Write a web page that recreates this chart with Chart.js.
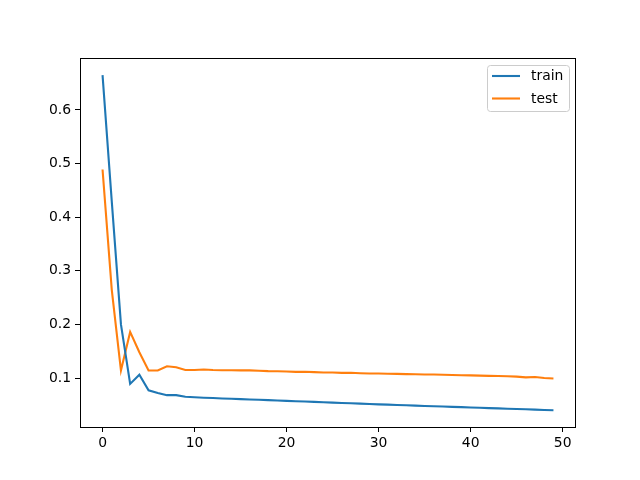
<!DOCTYPE html>
<html>
<head>
<meta charset="utf-8">
<script src="https://cdn.jsdelivr.net/npm/chart.js@4/dist/chart.umd.min.js"></script>
<style>
  body { margin: 0; background: #fff; }
  canvas { display: block; }
</style>
</head>
<body>
<canvas id="myChart" width="640" height="480"></canvas>
<script>
// loss per epoch
const epochs = [];
for (let i = 0; i < 50; i++) epochs.push(i);

const trainLoss = [
    0.665, 0.430, 0.200, 0.089, 0.106, 0.077, 0.072, 0.068, 0.068, 0.065,
    0.0640, 0.0632, 0.0626, 0.0619, 0.0613, 0.0606, 0.0600, 0.0593, 0.0587, 0.0580,
    0.0574, 0.0567, 0.0561, 0.0554, 0.0548, 0.0541, 0.0535, 0.0528, 0.0522, 0.0515,
    0.0509, 0.0503, 0.0497, 0.0491, 0.0485, 0.0479, 0.0473, 0.0468, 0.0462, 0.0456,
    0.0450, 0.0445, 0.0439, 0.0433, 0.0427, 0.0421, 0.0416, 0.0410, 0.0404, 0.0398
];
const testLoss = [
    0.489, 0.265, 0.114, 0.186, 0.148, 0.114, 0.114, 0.122, 0.120, 0.115,
    0.115, 0.116, 0.115, 0.1145, 0.1145, 0.1143, 0.1142, 0.1135, 0.1128, 0.1125,
    0.1122, 0.1115, 0.1117, 0.1110, 0.1103, 0.1102, 0.1095, 0.1098, 0.1090, 0.1085,
    0.1083, 0.1080, 0.1077, 0.1073, 0.1070, 0.1065, 0.1065, 0.1060, 0.1055, 0.1052,
    0.1050, 0.1045, 0.1040, 0.1038, 0.1033, 0.1025, 0.1012, 0.1018, 0.1000, 0.0992
];
const xTicks = [0, 10, 20, 30, 40, 50];
const yTicks = [0.1, 0.2, 0.3, 0.4, 0.5, 0.6];

const font = { family: 'DejaVu Sans', size: 13.9 };

// box around the plot + matplotlib style legend
const framePlugin = {
    id: 'frame',
    afterDraw(chart) {
        const c = chart.ctx;
        const a = chart.chartArea;
        c.save();
        c.strokeStyle = '#000';
        c.lineWidth = 1;
        c.strokeRect(a.left + 0.5, a.top + 0.5, a.right - a.left - 1, a.bottom - a.top);

        // legend
        const x = 487.5, y = 65.5, w = 82, h = 46;
        c.beginPath();
        c.roundRect(x, y, w, h, 3);
        c.fillStyle = 'rgba(255,255,255,0.8)';
        c.fill();
        c.strokeStyle = '#cccccc';
        c.stroke();
        c.font = '13.9px "DejaVu Sans"';
        c.textBaseline = 'middle';
        chart.data.datasets.forEach((ds, i) => {
            const ly = 76 + i * 22.5;
            c.strokeStyle = ds.borderColor;
            c.lineWidth = 2.1;
            c.beginPath();
            c.moveTo(492, ly);
            c.lineTo(520, ly);
            c.stroke();
            c.fillStyle = '#000';
            c.fillText(ds.label, 531, ly + 0.5);
        });
        c.restore();
    }
};

const ctx = document.getElementById('myChart').getContext('2d');
const myChart = new Chart(ctx, {
    type: 'line',
    data: {
        labels: epochs,
        datasets: [{
            label: 'train',
            data: trainLoss,
            borderColor: '#1f77b4',
            borderWidth: 2.1,
            pointRadius: 0,
            tension: 0
        }, {
            label: 'test',
            data: testLoss,
            borderColor: '#ff7f0e',
            borderWidth: 2.1,
            pointRadius: 0,
            tension: 0
        }]
    },
    options: {
        responsive: false,
        animation: false,
        layout: { padding: { top: 58, right: 64, left: 0, bottom: 0 } },
        plugins: { legend: { display: false }, tooltip: { enabled: false } },
        scales: {
            x: {
                type: 'linear',
                min: -2.45,
                max: 51.45,
                afterBuildTicks: s => { s.ticks = xTicks.map(v => ({ value: v })); },
                afterFit: s => { s.height = 53; },
                grid: { drawOnChartArea: false, drawTicks: true, tickLength: 5, color: '#000' },
                border: { display: false },
                ticks: { color: '#000', font: font, padding: 3, maxRotation: 0 }
            },
            y: {
                min: 0.0086,
                max: 0.697,
                afterBuildTicks: s => { s.ticks = yTicks.map(v => ({ value: v })); },
                afterFit: s => { s.width = 80; },
                grid: { drawOnChartArea: false, drawTicks: true, tickLength: 5, color: '#000' },
                border: { display: false },
                ticks: { color: '#000', font: font, padding: 4, callback: v => v.toFixed(1) }
            }
        }
    },
    plugins: [framePlugin]
});
</script>
</body>
</html>
